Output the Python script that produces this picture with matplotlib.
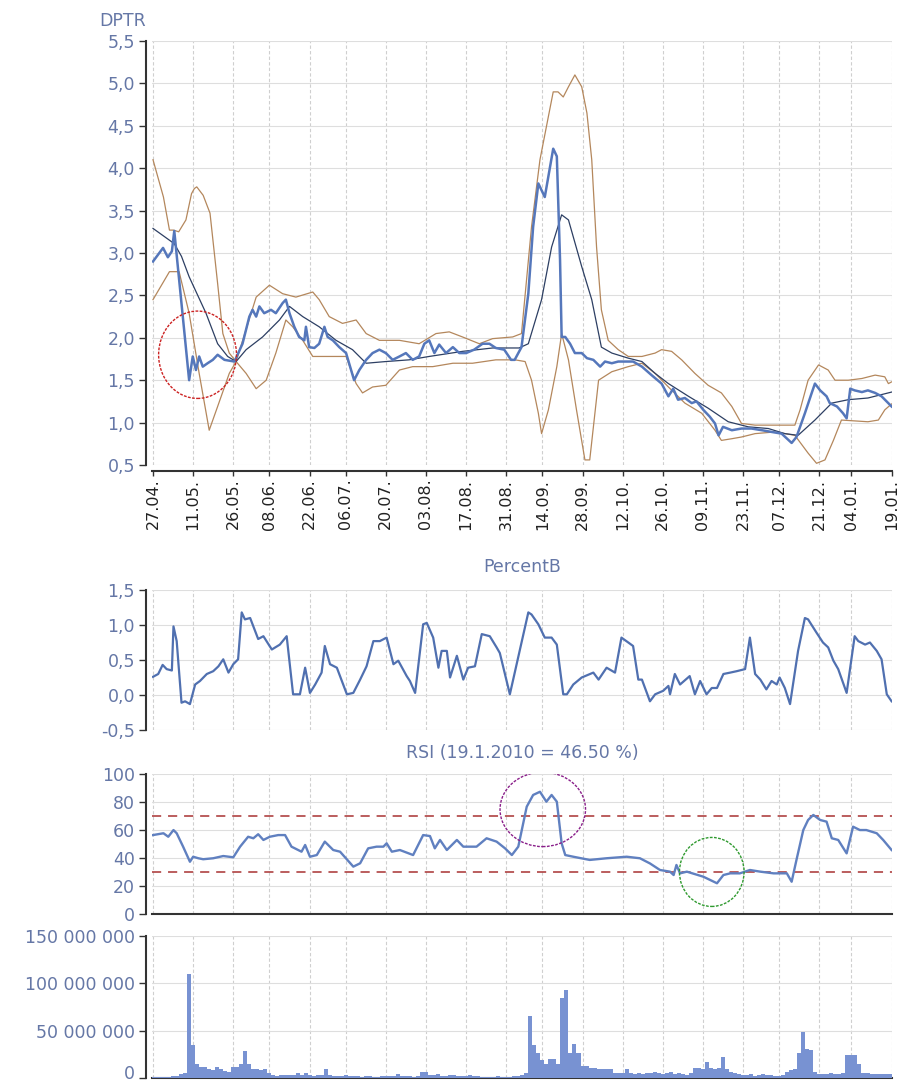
import matplotlib
matplotlib.use("Agg")
import matplotlib.pyplot as plt
from matplotlib.patches import Ellipse
from matplotlib.ticker import FixedLocator, FuncFormatter
from matplotlib.transforms import ScaledTranslation
import numpy as np

# ---------------- data (x = trading-day index from 27.04.2009) ----------------
date_pos = [0, 10, 20, 29, 39, 48, 58, 68, 78, 88, 97, 107, 117, 127, 137, 147, 156, 166, 174, 184]
date_labels = ["27.04.", "11.05.", "26.05.", "08.06.", "22.06.", "06.07.", "20.07.", "03.08.",
               "17.08.", "31.08.", "14.09.", "28.09.", "12.10.", "26.10.", "09.11.", "23.11.",
               "07.12.", "21.12.", "04.01.", "19.01."]

price_pts = [(0, 2.90), (2.5, 3.06), (3.7, 2.95), (4.7, 3.02), (5.3, 3.26), (9.0, 1.50), (9.9, 1.78),
             (10.7, 1.62), (11.5, 1.78), (12.4, 1.66), (13.6, 1.70), (14.9, 1.74), (16.1, 1.80),
             (17.8, 1.74), (20.3, 1.72), (22.3, 1.93), (24.0, 2.25), (24.8, 2.33), (25.7, 2.25),
             (26.5, 2.37), (27.7, 2.29), (29.4, 2.33), (30.6, 2.29), (32.3, 2.41), (33.1, 2.45),
             (34.0, 2.29), (35.2, 2.13), (36.4, 2.01), (37.7, 1.97), (38.1, 2.13), (38.9, 1.89),
             (40.2, 1.88), (41.4, 1.93), (42.7, 2.13), (43.5, 2.01), (44.8, 1.97), (46.4, 1.89),
             (48.1, 1.82), (50.1, 1.50), (51.4, 1.62), (53.1, 1.74), (54.7, 1.82), (56.4, 1.86),
             (58.0, 1.82), (59.7, 1.74), (61.4, 1.78), (63.0, 1.82), (64.7, 1.74), (66.3, 1.78),
             (67.6, 1.93), (68.8, 1.97), (70.1, 1.82), (71.3, 1.92), (73.0, 1.82), (74.7, 1.89),
             (76.3, 1.82), (78.0, 1.82), (80.0, 1.86), (82.1, 1.93), (83.8, 1.93), (85.4, 1.88),
             (87.5, 1.86), (89.2, 1.74), (90.1, 1.74), (91.8, 1.89), (93.5, 2.52), (94.7, 3.31),
             (96.0, 3.82), (97.6, 3.66), (99.7, 4.23), (100.6, 4.14), (101.4, 2.92), (101.8, 2.01),
             (102.7, 2.01), (103.9, 1.93), (105.1, 1.82), (106.8, 1.82), (108.1, 1.76), (109.7, 1.74),
             (111.4, 1.66), (112.6, 1.72), (114.3, 1.70), (115.9, 1.72), (117.6, 1.72), (119.6, 1.72),
             (121.8, 1.66), (124.2, 1.56), (126.7, 1.46), (128.4, 1.31), (129.6, 1.40), (130.8, 1.27),
             (132.5, 1.29), (134.2, 1.23), (135.4, 1.25), (137.1, 1.15), (138.7, 1.07), (140.0, 0.99),
             (140.9, 0.85), (142.0, 0.95), (144.2, 0.91), (146.6, 0.93), (149.1, 0.93), (151.7, 0.91),
             (154.1, 0.89), (156.6, 0.87), (159.1, 0.76), (160.3, 0.83), (162.4, 1.11), (164.1, 1.35),
             (164.9, 1.46), (166.2, 1.38), (167.8, 1.31), (168.6, 1.23), (170.4, 1.19), (171.9, 1.11),
             (172.8, 1.05), (173.7, 1.40), (174.8, 1.38), (176.6, 1.36), (178.1, 1.38), (179.9, 1.35),
             (181.5, 1.31), (184.0, 1.19)]

middle_pts = [(0, 3.29), (5.3, 3.11), (7.1, 2.96), (9.0, 2.72), (13.2, 2.29), (16.1, 1.93), (18.6, 1.78),
              (20.7, 1.72), (23.2, 1.86), (27.3, 2.01), (31.5, 2.21), (34.0, 2.37), (37.3, 2.25),
              (41.4, 2.13), (45.6, 1.97), (49.7, 1.86), (53.1, 1.70), (58.0, 1.72), (63.8, 1.74),
              (68.8, 1.78), (77.1, 1.84), (84.6, 1.88), (91.2, 1.88), (93.5, 1.93), (96.8, 2.45),
              (99.3, 3.07), (101.8, 3.45), (103.5, 3.39), (106.8, 2.84), (109.3, 2.45), (111.7, 1.89),
              (114.3, 1.82), (118.4, 1.76), (121.8, 1.72), (125.1, 1.58), (128.4, 1.46), (133.4, 1.31),
              (138.3, 1.17), (143.3, 1.01), (148.3, 0.95), (153.3, 0.93), (157.4, 0.87), (160.7, 0.85),
              (164.9, 1.03), (169.1, 1.23), (173.2, 1.27), (178.1, 1.29), (184.0, 1.36)]

upper_pts = [(0, 4.10), (2.6, 3.66), (4.1, 3.27), (5.1, 3.27), (6.4, 3.25), (8.2, 3.39), (9.6, 3.70),
             (10.3, 3.76), (10.9, 3.78), (12.5, 3.68), (14.2, 3.47), (16.1, 2.64), (17.4, 2.05),
             (19.0, 1.82), (20.7, 1.72), (25.7, 2.48), (29.0, 2.62), (32.3, 2.52), (35.6, 2.48),
             (39.8, 2.54), (41.4, 2.45), (43.9, 2.25), (47.2, 2.17), (50.6, 2.21), (53.1, 2.05),
             (56.4, 1.97), (61.4, 1.97), (66.3, 1.93), (70.5, 2.05), (73.8, 2.07), (77.1, 2.01),
             (81.3, 1.93), (84.6, 1.99), (89.6, 2.01), (91.8, 2.05), (94.3, 3.31), (96.4, 4.10),
             (98.5, 4.61), (99.7, 4.90), (100.9, 4.90), (102.2, 4.84), (103.5, 4.96), (105.1, 5.10),
             (106.8, 4.96), (108.1, 4.65), (109.3, 4.10), (110.5, 3.07), (111.7, 2.33), (113.4, 1.97),
             (115.9, 1.86), (118.4, 1.78), (121.8, 1.78), (125.1, 1.82), (126.7, 1.86), (129.2, 1.84),
             (131.7, 1.74), (135.0, 1.58), (138.3, 1.44), (141.6, 1.35), (144.2, 1.19), (146.6, 0.99),
             (150.0, 0.97), (155.0, 0.97), (159.9, 0.97), (161.2, 1.15), (163.2, 1.50), (165.8, 1.68),
             (168.2, 1.62), (169.9, 1.50), (173.2, 1.50), (176.6, 1.52), (179.9, 1.56), (182.3, 1.54),
             (183.2, 1.46), (184.0, 1.48)]

lower_pts = [(0, 2.45), (4.1, 2.78), (6.5, 2.78), (9.0, 2.29), (11.5, 1.58), (14.0, 0.91), (16.1, 1.19),
             (19.0, 1.58), (20.7, 1.72), (23.2, 1.58), (25.7, 1.40), (28.2, 1.50), (30.6, 1.82),
             (33.1, 2.21), (34.8, 2.13), (37.3, 1.97), (39.8, 1.78), (43.1, 1.78), (48.1, 1.78),
             (50.6, 1.46), (52.2, 1.35), (54.7, 1.42), (58.0, 1.44), (61.4, 1.62), (64.7, 1.66),
             (69.7, 1.66), (74.7, 1.70), (79.6, 1.70), (85.4, 1.74), (90.2, 1.74), (92.7, 1.72),
             (94.3, 1.50), (96.0, 1.11), (96.8, 0.87), (98.5, 1.15), (100.6, 1.66), (101.8, 2.05),
             (103.5, 1.74), (105.5, 1.15), (107.6, 0.56), (108.8, 0.56), (111.0, 1.50), (114.3, 1.60),
             (118.4, 1.66), (121.8, 1.70), (125.1, 1.58), (128.4, 1.42), (132.5, 1.23), (136.7, 1.11),
             (140.0, 0.91), (141.6, 0.79), (144.2, 0.81), (146.6, 0.83), (150.0, 0.87), (155.0, 0.89),
             (159.9, 0.85), (163.2, 0.64), (165.3, 0.52), (167.4, 0.56), (169.5, 0.79), (171.5, 1.03),
             (178.1, 1.01), (180.7, 1.03), (182.3, 1.15), (184.0, 1.22)]

percentb_pts = [(0, 0.26), (1.3, 0.30), (2.4, 0.43), (3.4, 0.37), (4.7, 0.35), (5.1, 0.98), (5.9, 0.77),
                (7.1, -0.11), (8.0, -0.09), (9.2, -0.13), (10.5, 0.15), (11.7, 0.20), (13.4, 0.30),
                (15.0, 0.34), (16.3, 0.41), (17.5, 0.51), (18.8, 0.32), (20.0, 0.44), (21.2, 0.51),
                (22.1, 1.18), (22.9, 1.08), (24.2, 1.10), (26.2, 0.80), (27.5, 0.84), (29.6, 0.65),
                (31.6, 0.72), (33.3, 0.84), (34.9, 0.01), (36.6, 0.01), (37.9, 0.39), (39.1, 0.03),
                (40.4, 0.15), (42.0, 0.32), (42.8, 0.70), (44.1, 0.44), (45.8, 0.39), (48.3, 0.01),
                (49.9, 0.03), (51.6, 0.22), (53.2, 0.41), (54.9, 0.77), (56.5, 0.77), (58.2, 0.82),
                (59.9, 0.44), (61.1, 0.49), (63.2, 0.27), (64.0, 0.20), (65.3, 0.03), (67.3, 1.01),
                (68.2, 1.03), (69.8, 0.82), (71.1, 0.39), (71.9, 0.63), (73.2, 0.63), (74.0, 0.25),
                (75.7, 0.56), (77.3, 0.22), (78.5, 0.39), (80.2, 0.41), (81.9, 0.87), (83.9, 0.84),
                (85.6, 0.68), (86.4, 0.60), (88.9, 0.01), (93.5, 1.18), (94.3, 1.15), (96.0, 1.01),
                (97.6, 0.82), (99.3, 0.82), (100.6, 0.72), (102.2, 0.01), (103.1, 0.01), (104.7, 0.15),
                (106.8, 0.25), (109.7, 0.32), (111.0, 0.22), (113.0, 0.39), (115.1, 0.32), (116.7, 0.82),
                (118.4, 0.75), (119.6, 0.70), (120.9, 0.22), (121.8, 0.22), (123.8, -0.09), (125.1, 0.01),
                (127.1, 0.06), (128.4, 0.13), (128.8, 0.01), (130.0, 0.30), (131.3, 0.15), (133.7, 0.27),
                (135.0, 0.01), (136.3, 0.20), (137.9, 0.01), (139.2, 0.10), (140.5, 0.10), (142.1, 0.30),
                (143.8, 0.32), (145.4, 0.34), (147.5, 0.37), (148.7, 0.82), (150.0, 0.30), (151.3, 0.22),
                (152.8, 0.08), (154.1, 0.20), (155.4, 0.15), (156.1, 0.25), (157.4, 0.10), (158.7, -0.13),
                (160.7, 0.63), (162.4, 1.10), (163.2, 1.08), (165.3, 0.89), (166.9, 0.75), (168.2, 0.68),
                (169.5, 0.49), (170.7, 0.37), (172.8, 0.03), (174.8, 0.84), (175.7, 0.77), (177.4, 0.72),
                (178.6, 0.75), (180.3, 0.63), (181.5, 0.51), (182.8, 0.01), (184.0, -0.09)]

rsi_pts = [(0, 56.5), (2.6, 57.8), (3.8, 55.3), (5.1, 60.1), (5.9, 57.8), (7.5, 48.2), (9.2, 37.4),
           (10.0, 41.0), (11.3, 39.9), (12.5, 39.2), (15.0, 39.9), (17.5, 41.5), (20.0, 40.6),
           (21.7, 48.2), (23.7, 55.3), (25.0, 54.2), (26.2, 57.1), (27.5, 53.0), (29.1, 55.3),
           (31.2, 56.5), (32.9, 56.5), (34.5, 48.2), (37.0, 44.6), (37.9, 49.4), (39.1, 41.0),
           (40.8, 42.2), (42.8, 51.8), (44.9, 45.8), (46.6, 44.6), (49.9, 33.9), (51.6, 36.3),
           (53.6, 47.0), (55.7, 48.2), (57.4, 48.2), (58.2, 50.6), (59.5, 44.6), (61.5, 45.8),
           (64.8, 42.2), (67.3, 56.5), (69.0, 55.8), (70.2, 47.0), (71.5, 53.0), (73.2, 45.8),
           (75.7, 53.0), (77.3, 48.2), (79.0, 48.2), (80.6, 48.2), (83.1, 54.2), (85.6, 51.8),
           (87.7, 47.0), (89.4, 42.2), (91.0, 48.2), (93.1, 76.8), (94.7, 85.2), (96.4, 87.5),
           (98.0, 80.4), (99.3, 85.2), (100.6, 80.4), (101.8, 50.6), (102.7, 42.2), (104.7, 41.0),
           (108.8, 38.7), (113.0, 39.9), (118.0, 41.0), (121.3, 39.9), (123.8, 36.2), (126.3, 31.5),
           (128.8, 30.3), (129.7, 27.9), (130.4, 35.1), (131.3, 29.1), (133.0, 30.3), (137.1, 26.7),
           (140.5, 22.0), (142.1, 27.9), (143.8, 29.1), (146.2, 29.1), (148.7, 31.5), (151.3, 30.3),
           (154.6, 29.1), (157.9, 29.1), (159.1, 23.1), (160.3, 38.7), (162.0, 60.1), (163.2, 67.3),
           (164.5, 70.9), (166.2, 67.3), (167.8, 66.1), (169.1, 54.2), (170.7, 53.0), (172.8, 43.4),
           (174.4, 62.5), (176.1, 60.1), (177.7, 60.1), (180.3, 57.8), (181.9, 53.0), (184.0, 45.8)]
rsi_levels = [30, 70]

# daily volume in millions of shares, one value per trading day 0..184
volume_m = [1.5, 1.2, 1.5, 1.0, 1.5, 2.0, 2.5, 4, 5,
            110, 35, 15, 12, 12, 10, 8, 12, 9, 7, 6,
            12, 12, 15, 29, 15, 9, 10, 8, 10, 5,
            3, 2.5, 3, 3, 3.5, 3, 5, 3, 5, 3,
            2.5, 3, 3, 10, 3, 2.5, 2.5, 2, 3.5, 2,
            2, 2, 1.5, 2, 2, 1.5, 1.5, 2, 2, 2,
            2, 4, 2, 2, 2, 1.5, 2, 6, 6, 3,
            3, 4, 2.5, 2.5, 3, 3, 2, 2, 2, 3.5,
            2, 2, 1.5, 1.5, 1.5, 1.5, 2, 1.5, 1.5, 1.5,
            2, 2, 3, 5, 65, 35, 26, 19, 15, 20,
            20, 15, 84, 93, 26, 36, 26, 13, 13, 11,
            11, 9, 9, 9, 9, 5.5, 5.5, 5.5, 9, 5,
            4, 5, 4, 5, 5, 6, 5, 4, 5, 6,
            4, 5, 4, 3, 5, 11, 11, 10, 17, 11,
            10, 11, 22, 9, 6, 5, 4, 3, 3, 4,
            2.5, 3, 4, 3, 3, 2.5, 2, 3, 6, 8,
            9, 26, 49, 31, 30, 6, 4, 4, 4, 5,
            4, 4, 5, 24, 24, 24, 15, 5.5, 5.5, 4.5,
            4.5, 4.5, 4.5, 4.5, 4.5]

# annotation circles: (centre day, centre value, width in days, height in value units)
red_circle = (11.1, 1.80, 19.4, 1.03)
purple_circle = (97.1, 74.9, 21.3, 53.3)
green_circle = (139.2, 30.1, 16.1, 49.4)

# ---------------- styling ----------------
W, H = 898, 1083
DPI = 100
LBL = "#6577a6"
AXC = "#333333"
plt.rcParams["font.family"] = ["DejaVu Sans"]

fig = plt.figure(figsize=(W / DPI, H / DPI), dpi=DPI, facecolor="white")


def box(left, top, right, bottom):
    return [left / W, 1 - bottom / H, (right - left) / W, (bottom - top) / H]


ax1 = fig.add_axes(box(152, 41, 892, 465))
ax2 = fig.add_axes(box(152, 590, 892, 730))
ax3 = fig.add_axes(box(152, 774.3, 892, 914))
ax4 = fig.add_axes(box(152, 936, 892, 1078))

off = 6 * 72 / DPI
for ax in (ax1, ax2, ax3, ax4):
    ax.set_xlim(-0.25, 184.1)
    ax.spines["top"].set_visible(False)
    ax.spines["right"].set_visible(False)
    ax.spines["left"].set_position(("outward", off))
    ax.spines["left"].set_linewidth(1.5)
    ax.spines["left"].set_color(AXC)
    ax.spines["bottom"].set_linewidth(1.5)
    ax.spines["bottom"].set_color(AXC)
    ax.xaxis.set_major_locator(FixedLocator(date_pos))
    ax.set_axisbelow(True)
    ax.grid(True, axis="x", color="#cfcfcf", lw=0.8, ls=(0, (3, 2)))
    ax.grid(True, axis="y", color="#dedede", lw=0.8)
    ax.tick_params(axis="y", direction="out", length=5, width=1, color=AXC,
                   labelcolor=LBL, labelsize=12.5, pad=3)

ax1.spines["bottom"].set_position(("outward", off))
ax2.spines["bottom"].set_visible(False)
for ax in (ax2, ax3, ax4):
    ax.tick_params(axis="x", length=0, labelbottom=False)

comma = FuncFormatter(lambda v, p: f"{v:.1f}".replace(".", ","))

# ---- top panel: price + Bollinger bands ----
for pts, col, lw in ((upper_pts, "#b4875c", 0.9), (lower_pts, "#b4875c", 0.9),
                     (middle_pts, "#2d3f63", 0.9), (price_pts, "#5577bb", 1.8)):
    xs, ys = np.array(pts).T
    ax1.plot(xs, ys, color=col, lw=lw, solid_joinstyle="round")
ax1.set_ylim(0.5, 5.5)
ax1.set_yticks(np.arange(0.5, 5.51, 0.5))
ax1.yaxis.set_major_formatter(comma)
ax1.set_xticks(date_pos)
ax1.set_xticklabels(date_labels, rotation=90, fontsize=11.5, color="#222222")
ax1.tick_params(axis="x", direction="out", length=3.5, width=1, color=AXC, pad=2)
cx, cy, cw, ch = red_circle
ax1.add_patch(Ellipse((cx, cy), cw, ch, fill=False, ec="#cc2222", lw=1.0, ls=(0, (2, 1)), zorder=5))
fig.text(122.5 / W, 1 - 21 / H, "DPTR", ha="center", va="center", color=LBL, fontsize=12.5)

# ---- PercentB ----
xs, ys = np.array(percentb_pts).T
ax2.plot(xs, ys, color="#5070b0", lw=1.6)
ax2.set_ylim(-0.5, 1.5)
ax2.set_yticks(np.arange(-0.5, 1.51, 0.5))
ax2.yaxis.set_major_formatter(comma)
fig.text(522 / W, 1 - 567 / H, "PercentB", ha="center", va="center", color=LBL, fontsize=12.5)

# ---- RSI ----
xs, ys = np.array(rsi_pts).T
for lvl in rsi_levels:
    ax3.axhline(lvl, color="#a83232", lw=1.1, ls=(0, (6, 4.5)), zorder=2)
ax3.plot(xs, ys, color="#6080c0", lw=1.7, zorder=3)
ax3.set_ylim(0, 100)
ax3.set_yticks(np.arange(0, 101, 20))
for (cx, cy, cw, ch), col in ((purple_circle, "#8a1f8a"), (green_circle, "#2f9a2f")):
    ax3.add_patch(Ellipse((cx, cy), cw, ch, fill=False, ec=col, lw=1.0, ls=(0, (2, 1)), zorder=5))
fig.text(522 / W, 1 - 753 / H, "RSI (19.1.2010 = 46.50 %)", ha="center", va="center",
         color=LBL, fontsize=12.5)

# ---- Volume ----
days = np.arange(len(volume_m))
ax4.bar(days, np.array(volume_m) * 1e6, width=1.0, color="#7892d2", edgecolor="none", zorder=3)
ax4.set_ylim(0, 150e6)
ax4.set_yticks([0, 50e6, 100e6, 150e6])
ax4.yaxis.set_major_formatter(FuncFormatter(lambda v, p: f"{int(round(v)):,}".replace(",", " ")))
zero_lab = ax4.yaxis.get_major_ticks()[0].label1
zero_lab.set_transform(zero_lab.get_transform() + ScaledTranslation(0, 4 / 72, fig.dpi_scale_trans))

fig.savefig("out.png", dpi=DPI, facecolor="white")
